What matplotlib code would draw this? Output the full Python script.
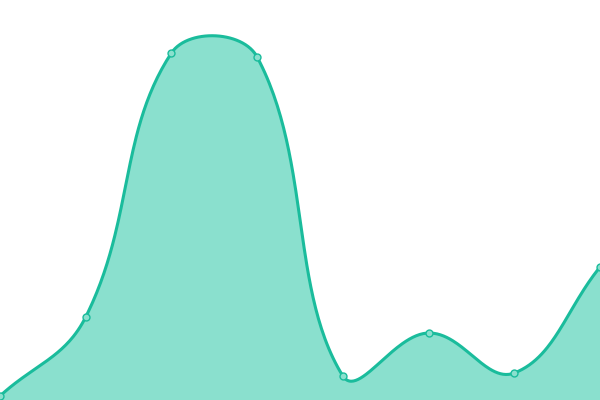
import numpy as np
import matplotlib
matplotlib.use("Agg")
import matplotlib.pyplot as plt

# valores da série (eixo y de 0 a 400)
labels = ["A", "B", "C", "D", "E", "F", "G", "H"]
values = [4, 83, 347, 343, 24, 67, 27, 133]

line_color = "#1abc9c"
fill_color = "#8ae0ce"
tension = 0.4


def spline_path(pts, area):
    # curva tipo Chart.js (tension 0.4) calculada em coordenadas de pixel
    n = len(pts)
    ctrl = []
    for i in range(n):
        prev = pts[i - 1] if i > 0 else pts[i]
        cur = pts[i]
        nxt = pts[i + 1] if i < n - 1 else pts[i]
        d01 = np.hypot(*(cur - prev))
        d12 = np.hypot(*(nxt - cur))
        tot = d01 + d12
        s01 = d01 / tot if tot else 0
        s12 = d12 / tot if tot else 0
        c_prev = cur - tension * s01 * (nxt - prev)
        c_next = cur + tension * s12 * (nxt - prev)
        c_prev = np.clip(c_prev, area[0], area[1])
        c_next = np.clip(c_next, area[0], area[1])
        ctrl.append((c_prev, c_next))
    out = []
    t = np.linspace(0, 1, 60)[:, None]
    for i in range(n - 1):
        p0, p3 = pts[i], pts[i + 1]
        p1, p2 = ctrl[i][1], ctrl[i + 1][0]
        seg = ((1 - t) ** 3) * p0 + 3 * ((1 - t) ** 2) * t * p1 + 3 * (1 - t) * t ** 2 * p2 + t ** 3 * p3
        out.append(seg if i == 0 else seg[1:])
    return np.vstack(out)


fig = plt.figure(figsize=(6, 4), dpi=100)
ax = fig.add_axes([0, 0, 1, 1])
x = np.arange(len(labels))
ax.set_xlim(0, len(labels) - 1)
ax.set_ylim(0, 400)
ax.axis("off")

disp = ax.transData.transform(np.column_stack([x, values]))
lo = ax.transData.transform((0, 0))
hi = ax.transData.transform((len(labels) - 1, 400))
curve = ax.transData.inverted().transform(spline_path(disp, (lo, hi)))

ax.fill_between(curve[:, 0], curve[:, 1], 0, color=fill_color, lw=0)
ax.plot(curve[:, 0], curve[:, 1], color=line_color, lw=2.2, solid_capstyle="round")
ax.plot(x, values, "o", ms=5, mfc=fill_color, mec=line_color, mew=1, clip_on=False)

fig.savefig("out.png", dpi=100)
